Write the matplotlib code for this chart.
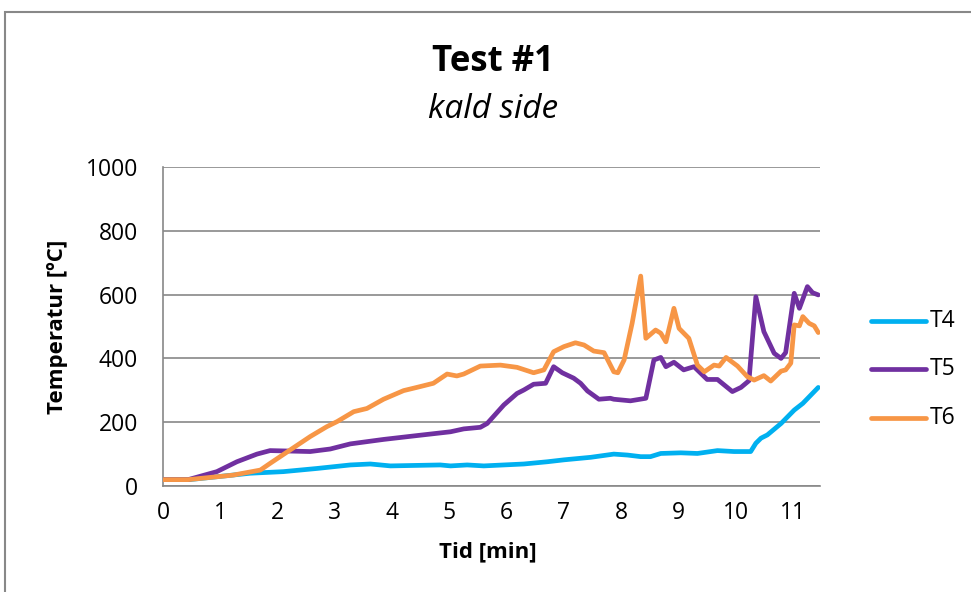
import matplotlib
matplotlib.use("Agg")
import matplotlib.pyplot as plt
from matplotlib.patches import Rectangle

# --- data ---
t4_time = [0.0, 0.46, 0.94, 1.52, 2.10, 2.69, 3.27, 3.62, 3.97, 4.84, 5.02, 5.31, 5.60,
           5.95, 6.30, 6.71, 7.00, 7.47, 7.87, 8.11, 8.34, 8.51, 8.69, 9.04, 9.33, 9.68,
           9.97, 10.26, 10.35, 10.44, 10.55, 10.79, 11.02, 11.17, 11.44]
t4_temp = [20, 20, 29, 40, 45, 55, 66, 69, 63, 66, 63, 66, 63,
           66, 69, 76, 82, 90, 100, 97, 92, 92, 102, 104, 102, 111,
           108, 108, 134, 150, 160, 196, 238, 259, 309]

t5_time = [0.0, 0.44, 0.94, 1.29, 1.64, 1.87, 2.57, 2.92, 3.27, 3.85, 4.43, 5.02, 5.25,
           5.54, 5.66, 5.95, 6.18, 6.30, 6.47, 6.68, 6.82, 6.97, 7.17, 7.29, 7.41, 7.61,
           7.81, 7.87, 8.16, 8.43, 8.57, 8.69, 8.78, 8.92, 9.09, 9.27, 9.50, 9.68, 9.94,
           10.09, 10.23, 10.35, 10.49, 10.67, 10.79, 10.87, 11.02, 11.11, 11.25, 11.34, 11.44]
t5_temp = [20, 20, 45, 76, 100, 111, 108, 116, 132, 146, 158, 170, 179,
           184, 196, 254, 290, 301, 319, 322, 374, 355, 338, 322, 298, 272,
           275, 272, 267, 275, 395, 403, 374, 388, 364, 374, 334, 334, 296,
           309, 330, 593, 484, 416, 400, 418, 604, 557, 625, 606, 599]

t6_time = [0.0, 0.44, 1.22, 1.70, 1.87, 2.22, 2.57, 2.86, 3.04, 3.33, 3.56, 3.85, 4.20,
           4.43, 4.72, 4.96, 5.13, 5.25, 5.54, 5.89, 6.18, 6.47, 6.65, 6.82, 7.00, 7.20,
           7.35, 7.52, 7.70, 7.87, 7.94, 8.05, 8.19, 8.34, 8.43, 8.60, 8.69, 8.78, 8.92,
           9.01, 9.18, 9.33, 9.45, 9.62, 9.71, 9.83, 10.03, 10.20, 10.32, 10.49, 10.61,
           10.79, 10.87, 10.96, 11.02, 11.11, 11.17, 11.28, 11.37, 11.44]
t6_temp = [20, 20, 34, 50, 71, 113, 155, 186, 202, 233, 243, 272, 299,
           309, 322, 351, 345, 351, 376, 379, 372, 355, 364, 421, 437, 449,
           442, 423, 418, 358, 355, 395, 510, 658, 463, 489, 479, 452, 557,
           494, 463, 379, 358, 379, 376, 403, 376, 343, 332, 346, 329,
           360, 364, 385, 505, 502, 531, 510, 502, 481]

series_names = ["T4", "T5", "T6"]
y_ticks = [0, 200, 400, 600, 800, 1000]
x_ticks = list(range(0, 12))

colors = ["#00B0F0", "#7030A0", "#F79646"]
FONT = "Open Sans"

W, H = 971, 592
fig = plt.figure(figsize=(W / 100, H / 100), dpi=100)
ax = fig.add_axes([163 / W, 1 - 486 / H, (820 - 163) / W, (486 - 167) / H])

lines = []
for tt, vv, c, n in zip([t4_time, t5_time, t6_time], [t4_temp, t5_temp, t6_temp],
                        colors, series_names):
    ln, = ax.plot(tt, vv, color=c, lw=3.4, solid_joinstyle="round",
                  solid_capstyle="round", label=n, zorder=3)
    lines.append(ln)

ax.set_xlim(0, 11.47)
ax.set_ylim(0, 1000)
ax.set_yticks(y_ticks)
ax.set_xticks(x_ticks)
ax.set_yticklabels([str(v) for v in y_ticks], fontsize=16.5, fontname=FONT)
ax.set_xticklabels([str(v) for v in x_ticks], fontsize=16.5, fontname=FONT)
ax.tick_params(axis="y", length=0, pad=18, colors="#000000")
ax.tick_params(axis="x", length=0, pad=11, colors="#000000")
ax.yaxis.grid(True, color="#888888", lw=1.2)
ax.set_axisbelow(True)
for s in ["top", "right"]:
    ax.spines[s].set_visible(False)
for s in ["left", "bottom"]:
    ax.spines[s].set_color("#888888")
    ax.spines[s].set_linewidth(1.2)

fig.text(488 / W, 1 - 552 / H, "Tid [min]", ha="center", va="center",
         fontsize=16, fontweight="bold", fontname=FONT)
fig.text(58 / W, 1 - 327 / H, "Temperatur [ºC]", ha="center", va="center",
         rotation=90, fontsize=16, fontweight="bold", fontname=FONT)

fig.text(493 / W, 1 - 62 / H, "Test #1", ha="center", va="center",
         fontsize=25, fontweight="bold", fontname=FONT)
fig.text(493 / W, 1 - 110 / H, "kald side", ha="center", va="center",
         fontsize=24, style="italic", fontname=FONT)

# legend
leg_y = [321, 369, 418]
for n, y, c in zip(series_names, leg_y, colors):
    fig.add_artist(plt.Line2D([871 / W, 926 / W], [1 - y / H, 1 - y / H], color=c,
                              lw=3.4, solid_capstyle="round"))
    fig.text(930 / W, 1 - y / H, n, ha="left", va="center", fontsize=16.5, fontname=FONT)

# outer chart border
fig.add_artist(Rectangle((5 / W, -0.1), 1.2, 1.1 - 12 / H, transform=fig.transFigure,
                         fill=False, edgecolor="#888888", lw=1.5))

fig.savefig("out.png", dpi=100, facecolor="white")
